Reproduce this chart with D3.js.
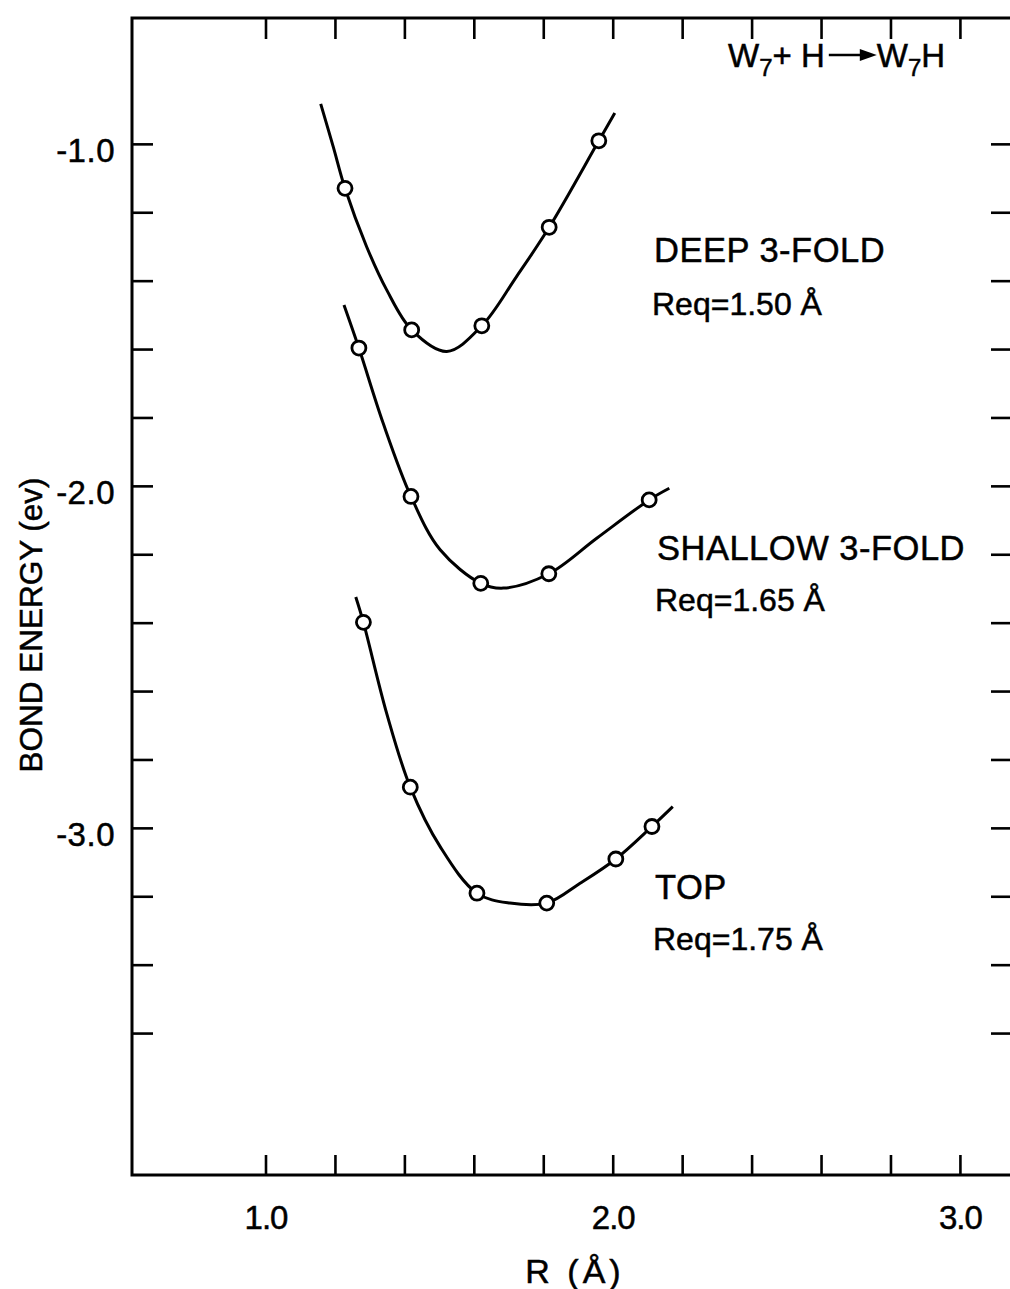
<!DOCTYPE html>
<html>
<head>
<meta charset="utf-8">
<script src="https://cdn.jsdelivr.net/npm/d3@7"></script>
<style>
  body { margin: 0; background: #fff; }
  svg { display: block; }
  text { font-family: "Liberation Sans", Arial, sans-serif; fill: #000; stroke: #000; stroke-width: 0.5px; }
</style>
</head>
<body>
<svg id="chart" width="1010" height="1289"></svg>
<script>
// ---- Data ----
const xTicks = [1.0, 1.2, 1.4, 1.6, 1.8, 2.0, 2.2, 2.4, 2.6, 2.8, 3.0];
const xTickLabels = {"1": "1.0", "2": "2.0", "3": "3.0"};
const yTicks = [-1.0, -1.2, -1.4, -1.6, -1.8, -2.0, -2.2, -2.4, -2.6, -2.8, -3.0, -3.2, -3.4, -3.6];
const yTickLabels = {"-1": "-1.0", "-2": "-2.0", "-3": "-3.0"};

// computed points (R in Å, bond energy in eV)
const deepPoints = [[1.229, -1.130], [1.421, -1.544], [1.623, -1.532], [1.817, -1.244], [1.960, -0.991]];
const shallowPoints = [[1.269, -1.597], [1.419, -2.031], [1.620, -2.285], [1.816, -2.257], [2.105, -2.041]];
const topPoints = [[1.282, -2.399], [1.417, -2.881], [1.609, -3.191], [1.810, -3.220], [2.009, -3.091], [2.113, -2.996]];

// fitted curves
const deepCurve = [[1.159, -0.883], [1.195, -1.008], [1.229, -1.130], [1.291, -1.300], [1.349, -1.427], [1.421, -1.544],
  [1.522, -1.607], [1.623, -1.532], [1.723, -1.388], [1.817, -1.244], [1.960, -0.991], [2.006, -0.910]];
const shallowCurve = [[1.226, -1.471], [1.269, -1.597], [1.339, -1.817], [1.419, -2.031], [1.503, -2.187], [1.620, -2.285],
  [1.685, -2.299], [1.816, -2.257], [1.954, -2.153], [2.105, -2.041], [2.163, -2.007]];
const topCurve = [[1.260, -2.325], [1.282, -2.399], [1.349, -2.665], [1.417, -2.881], [1.503, -3.055], [1.609, -3.191],
  [1.704, -3.220], [1.810, -3.220], [1.906, -3.162], [2.009, -3.091], [2.113, -2.996], [2.173, -2.938]];

const curveLabels = [
  {name: "DEEP 3-FOLD", req: "Req=1.50 Å", lx: 654, ly1: 262, ly2: 315},
  {name: "SHALLOW 3-FOLD", req: "Req=1.65 Å", lx: 657, ly1: 560, ly2: 611},
  {name: "TOP", req: "Req=1.75 Å", lx: 655, ly1: 899, ly2: 950}
];

// ---- Layout ----
const svg = d3.select("#chart");
const pLeft = 132, pRight = 1012, pTop = 18, pBottom = 1175;
const x = d3.scaleLinear().domain([0.6155, 3.15]).range([pLeft, pRight]);
const y = d3.scaleLinear().domain([-0.632, -4.015]).range([pTop, pBottom]);

// frame
svg.append("rect")
  .attr("x", pLeft).attr("y", pTop).attr("width", pRight - pLeft).attr("height", pBottom - pTop)
  .attr("fill", "none").attr("stroke", "#000").attr("stroke-width", 3);

const fontSize = 33;

const gB = svg.append("g").attr("transform", `translate(0,${pBottom})`)
  .call(d3.axisBottom(x).tickValues(xTicks).tickSizeInner(-20).tickSizeOuter(0).tickPadding(31)
    .tickFormat(d => xTickLabels[String(Math.round(d * 10) / 10)] || ""));
const gT = svg.append("g").attr("transform", `translate(0,${pTop})`)
  .call(d3.axisTop(x).tickValues(xTicks).tickSizeInner(-21).tickSizeOuter(0).tickFormat(""));
const gL = svg.append("g").attr("transform", `translate(${pLeft},0)`)
  .call(d3.axisLeft(y).tickValues(yTicks).tickSizeInner(-21).tickSizeOuter(0).tickPadding(17)
    .tickFormat(d => yTickLabels[String(Math.round(d * 10) / 10)] || ""));
const gR = svg.append("g").attr("transform", `translate(${pRight},0)`)
  .call(d3.axisRight(y).tickValues(yTicks).tickSizeInner(-21).tickSizeOuter(0).tickFormat(""));

[gB, gT, gL, gR].forEach(g => {
  g.select(".domain").remove();
  g.selectAll(".tick line").attr("stroke", "#000").attr("stroke-width", 2.6);
  g.selectAll("text").style("font-size", fontSize + "px").style("font-family", "'Liberation Sans', Arial, sans-serif")
    .attr("fill", "#000").attr("stroke", "#000").attr("stroke-width", 0.5);
});
gB.selectAll(".tick text").attr("dy", "0.71em").attr("letter-spacing", "-1px");
gL.selectAll(".tick text").attr("dy", "0.52em").attr("letter-spacing", "0.5px");

// axis titles
svg.append("text")
  .attr("x", 575).attr("y", 1283).attr("text-anchor", "middle")
  .style("font-size", "34px").attr("letter-spacing", "4px")
  .text("R (Å)");
svg.append("text")
  .attr("transform", "translate(42,625) rotate(-90)").attr("text-anchor", "middle")
  .style("font-size", "31.5px")
  .text("BOND ENERGY (ev)");

// curves
const line = d3.line().x(d => x(d[0])).y(d => y(d[1])).curve(d3.curveCatmullRom.alpha(0.5));
[deepCurve, shallowCurve, topCurve].forEach(c => {
  svg.append("path").datum(c).attr("d", line)
    .attr("fill", "none").attr("stroke", "#000").attr("stroke-width", 3);
});

// points
[deepPoints, shallowPoints, topPoints].forEach(pts => {
  svg.append("g").selectAll("circle").data(pts).join("circle")
    .attr("cx", d => x(d[0])).attr("cy", d => y(d[1])).attr("r", 7)
    .attr("fill", "#fff").attr("stroke", "#000").attr("stroke-width", 2.8);
});

// curve labels
curveLabels.forEach(l => {
  svg.append("text").attr("x", l.lx).attr("y", l.ly1).style("font-size", "34.5px").attr("letter-spacing", "0.5px").text(l.name);
  svg.append("text").attr("x", l.lx - 2).attr("y", l.ly2).style("font-size", "32px").text(l.req);
});

// reaction label W7 + H -> W7H
const rx = 728, ry = 67;
const t1 = svg.append("text").attr("x", rx).attr("y", ry).style("font-size", "33px");
t1.append("tspan").text("W");
t1.append("tspan").attr("dy", 9).style("font-size", "24px").text("7");
t1.append("tspan").attr("dy", -9).text("+ H");
const w1 = t1.node().getComputedTextLength();
const ax0 = rx + w1 + 4, ax1 = ax0 + 48;
svg.append("line").attr("x1", ax0).attr("x2", ax1 - 12).attr("y1", ry - 12).attr("y2", ry - 12)
  .attr("stroke", "#000").attr("stroke-width", 2.5);
svg.append("path").attr("d", `M${ax1 - 17},${ry - 18} L${ax1},${ry - 12} L${ax1 - 17},${ry - 6} Z`).attr("fill", "#000");
const t2 = svg.append("text").attr("x", ax1).attr("y", ry).style("font-size", "33px");
t2.append("tspan").text("W");
t2.append("tspan").attr("dy", 9).style("font-size", "24px").text("7");
t2.append("tspan").attr("dy", -9).text("H");
</script>
</body>
</html>
